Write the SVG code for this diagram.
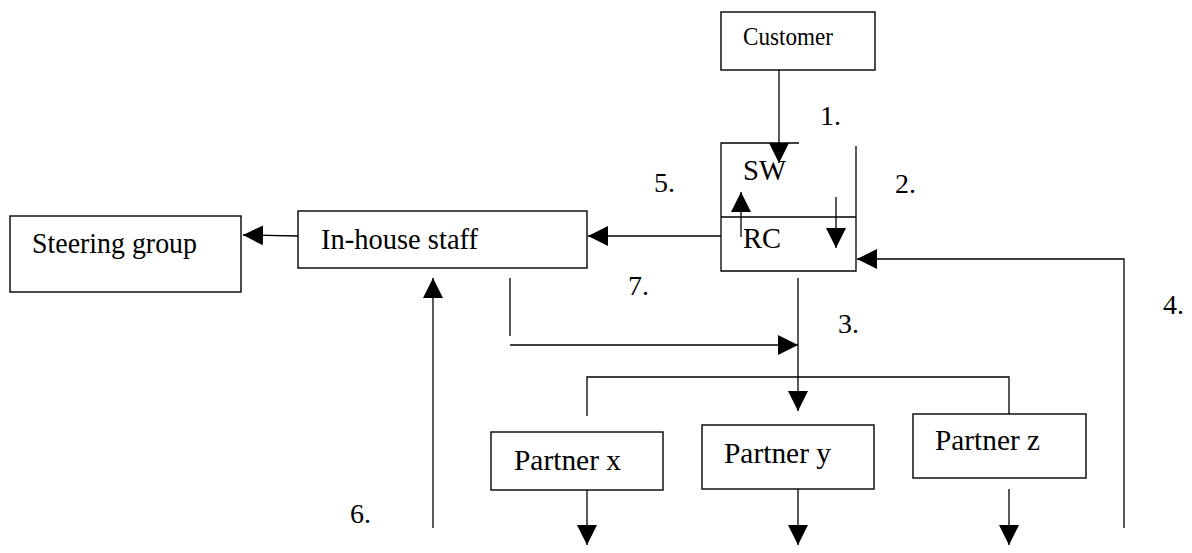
<svg xmlns="http://www.w3.org/2000/svg" width="1192" height="553" viewBox="0 0 1192 553">
  <style>
    .box { fill: #ffffff; stroke: #000000; stroke-width: 1.4; }
    .edge { fill: none; stroke: #000000; stroke-width: 1.3; }
    .arrow { marker-end: url(#head); }
    .lbl { font-family: "Liberation Serif", "Times New Roman", serif; font-size: 30px; fill: #000000; }
    .num { font-family: "Liberation Serif", "Times New Roman", serif; font-size: 28px; fill: #000000; }
  </style>
  <defs>
    <marker id="head" markerUnits="userSpaceOnUse" markerWidth="20" markerHeight="20" refX="20" refY="10" orient="auto">
      <path d="M0,0 L20,10 L0,20 Z" fill="#000000"/>
    </marker>
  </defs>
  <rect width="1192" height="553" fill="#ffffff"/>

  <!-- nodes -->
  <g id="customer">
    <rect class="box" x="721" y="12" width="154" height="58"/>
    <text class="lbl" x="743" y="45" style="font-size:25px" textLength="90" lengthAdjust="spacingAndGlyphs">Customer</text>
  </g>
  <g id="sw-rc">
    <path class="edge" d="M799,143 H721 V271 H856 V146"/>
    <line class="edge" x1="721" y1="217" x2="856" y2="217"/>
    <text class="lbl" x="743" y="180" textLength="43" lengthAdjust="spacingAndGlyphs">SW</text>
    <text class="lbl" x="743" y="248" textLength="38" lengthAdjust="spacingAndGlyphs">RC</text>
  </g>
  <g id="steering-group">
    <rect class="box" x="10" y="216" width="231" height="76"/>
    <text class="lbl" x="32" y="253" textLength="165" lengthAdjust="spacingAndGlyphs">Steering group</text>
  </g>
  <g id="in-house-staff">
    <rect class="box" x="298" y="211" width="289" height="57"/>
    <text class="lbl" x="321" y="249" textLength="157" lengthAdjust="spacingAndGlyphs">In-house staff</text>
  </g>
  <g id="partner-x">
    <rect class="box" x="491" y="432" width="172" height="58"/>
    <text class="lbl" x="514" y="470" textLength="107" lengthAdjust="spacingAndGlyphs">Partner x</text>
  </g>
  <g id="partner-y">
    <rect class="box" x="702" y="425" width="172" height="64"/>
    <text class="lbl" x="724" y="463" textLength="107" lengthAdjust="spacingAndGlyphs">Partner y</text>
  </g>
  <g id="partner-z">
    <rect class="box" x="913" y="414" width="173" height="64"/>
    <text class="lbl" x="935" y="450" textLength="105" lengthAdjust="spacingAndGlyphs">Partner z</text>
  </g>

  <!-- connectors -->
  <g id="connectors">
    <line class="edge arrow" x1="779" y1="70" x2="779" y2="163"/>
    <line class="edge arrow" x1="741" y1="237" x2="741" y2="192"/>
    <line class="edge arrow" x1="836" y1="197" x2="836" y2="248"/>
    <line class="edge arrow" x1="721" y1="236" x2="588" y2="236"/>
    <line class="edge arrow" x1="298" y1="236" x2="243" y2="235"/>
    <polyline class="edge arrow" points="1124,528 1124,259 857,259"/>
    <line class="edge arrow" x1="798" y1="278" x2="798" y2="411"/>
    <line class="edge" x1="510" y1="278" x2="510" y2="336"/>
    <line class="edge arrow" x1="510" y1="345" x2="798" y2="345"/>
    <polyline class="edge" points="587,416 587,377 1009,377 1009,414"/>
    <line class="edge arrow" x1="433" y1="528" x2="433" y2="278"/>
    <line class="edge arrow" x1="587" y1="490" x2="587" y2="545"/>
    <line class="edge arrow" x1="798" y1="489" x2="798" y2="545"/>
    <line class="edge arrow" x1="1009" y1="489" x2="1009" y2="545"/>
  </g>

  <!-- step numbers -->
  <g id="steps">
    <text class="num" x="820" y="125">1.</text>
    <text class="num" x="895" y="193">2.</text>
    <text class="num" x="838" y="333">3.</text>
    <text class="num" x="1163" y="314">4.</text>
    <text class="num" x="654" y="192">5.</text>
    <text class="num" x="350" y="523">6.</text>
    <text class="num" x="628" y="295">7.</text>
  </g>
</svg>
